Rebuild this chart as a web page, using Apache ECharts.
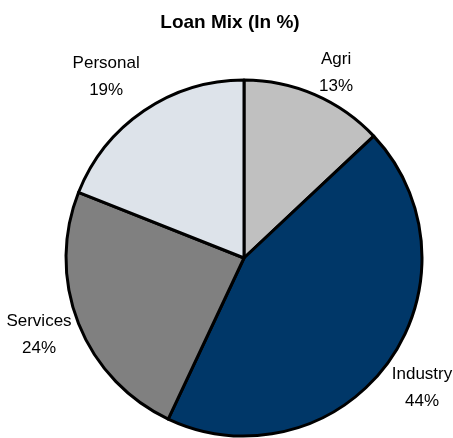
<!DOCTYPE html>
<html>
<head>
<meta charset="utf-8">
<script src="https://cdn.jsdelivr.net/npm/echarts@6/dist/echarts.min.js"></script>
<style>
  html, body { margin: 0; padding: 0; background: #fff; }
  #chart { width: 453px; height: 438px; }
</style>
</head>
<body>
<div id="chart"></div>
<script>
// Loan portfolio composition, in percent
const categories = ['Agri', 'Industry', 'Services', 'Personal'];
const shares = [13, 44, 24, 19];
const sliceColors = ['#C0C0C0', '#003768', '#808080', '#DDE3EA'];

const CX = 244, CY = 258, R = 178;
// label placement: distance from centre and small angular nudge (degrees)
const labelDist = [207, 220, 219, 228];
const labelNudge = [3, 0, 1, -3];

const total = shares.reduce((a, b) => a + b, 0);
const midAngles = [];
let acc = 0;
shares.forEach(v => { midAngles.push((acc + v / 2) / total * 2 * Math.PI); acc += v; });

const chart = echarts.init(document.getElementById('chart'), null, { renderer: 'canvas' });
chart.setOption({
  animation: false,
  title: {
    text: 'Loan Mix (In %)',
    left: 225, top: 8, textAlign: 'center',
    textStyle: { fontFamily: 'Liberation Sans, Arial, sans-serif', fontWeight: 'bold', fontSize: 19, color: '#000' }
  },
  series: [{
    type: 'pie',
    center: [CX, CY],
    radius: [0, R],
    startAngle: 90,
    clockwise: true,
    avoidLabelOverlap: false,
    data: categories.map((c, i) => ({ name: c, value: shares[i], itemStyle: { color: sliceColors[i] } })),
    itemStyle: { borderColor: '#000', borderWidth: 3 },
    label: {
      show: true,
      position: 'outside',
      formatter: p => p.name + '\n' + p.value + '%',
      fontFamily: 'Liberation Sans Narrow, Liberation Sans, Arial, sans-serif',
      fontSize: 17,
      lineHeight: 27,
      color: '#000',
      align: 'center',
      overflow: 'none'
    },
    labelLine: { show: false },
    labelLayout: p => {
      const i = p.dataIndex;
      const a = midAngles[i] + labelNudge[i] * Math.PI / 180, d = labelDist[i];
      return {
        x: CX + d * Math.sin(a),
        y: CY - d * Math.cos(a),
        align: 'center',
        verticalAlign: 'middle',
        hideOverlap: false
      };
    }
  }]
});
</script>
</body>
</html>
